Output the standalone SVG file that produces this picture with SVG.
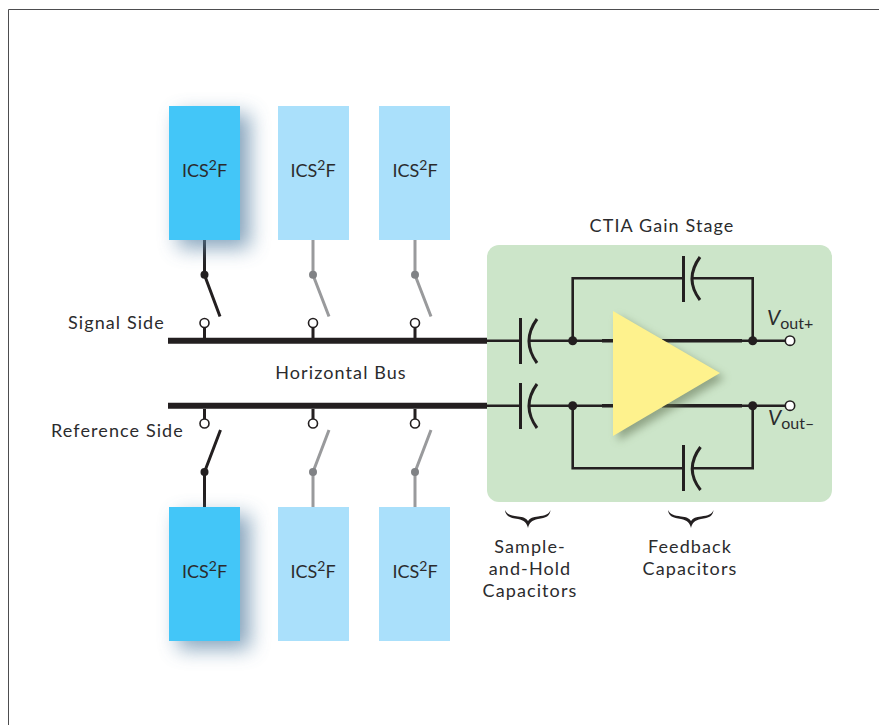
<svg xmlns="http://www.w3.org/2000/svg" width="879" height="725" viewBox="0 0 879 725">
<style>
text{font-family:Lato,"Noto Sans","Liberation Sans",sans-serif;font-size:18px;letter-spacing:1.1px;fill:#2b2b2d}
.m{text-anchor:middle}
.i{font-size:18px;letter-spacing:0}
.v{letter-spacing:0}
.sup{font-size:14px}
.d{fill:#43c6f8}.l{fill:#aae0fb}
.k{stroke:#231f20;fill:none;stroke-width:3}
.g{stroke:#999a9c;fill:none;stroke-width:3}
.w{stroke:#231f20;fill:none;stroke-width:2.6}
.kd{fill:#231f20}.gd{fill:#808285}
.o{fill:#fff;stroke:#231f20;stroke-width:1.6}
.c{stroke:#231f20;fill:none;stroke-width:3}
</style>
<defs>
<filter id="sh" x="-60%" y="-40%" width="220%" height="180%"><feGaussianBlur stdDeviation="10"/></filter>
<filter id="ts" x="-30%" y="-30%" width="160%" height="160%"><feGaussianBlur stdDeviation="4"/></filter>
</defs>
<path d="M8.500 725V9.500H879" fill="none" stroke="#4d4d4f" stroke-width="1"/>
<g id="stage">
<rect x="487" y="245" width="345" height="257" rx="12" fill="#cce5c9"/>
</g>
<g id="connectors">
<path class="w" d="M487 340.700H520M530 340.700H614M662 340.700H785M572.700 340.700V278.300H683M692.500 278.300H752.700V340.700"/>
<path class="w" d="M487 405.700H520M530 405.700H614M662 405.700H785M572.700 405.700V468.300H683M692.500 468.300H752.700V405.700"/>
<path d="M602 340.700H614M662 340.700H742M602 405.700H614M662 405.700H742" stroke="#231f20" stroke-width="3.600" fill="none"/>
<path d="M168 340.700H487M168 405.700H487" stroke="#231f20" stroke-width="6" fill="none"/>
<path class="k" d="M204.500 240V275L220 316.500M204.500 328V338M204.500 409V419M220.500 430L204.500 472V507"/>
<path class="g" d="M313 240V275L329 316.500M415 240V275L431 316.500M313 507V472L329 430M415 507V472L431 430"/>
<path class="k" d="M313 328V338M415 328V338M313 409V419M415 409V419"/>
</g>
<g id="cap-sh1"><path class="c" d="M520.500 318V364M537 319Q521 341 537 363"/></g>
<g id="cap-sh2"><path class="c" d="M520.500 383V429M537 384Q521 406 537 428"/></g>
<g id="cap-fb1"><path class="c" d="M683.500 256V302M700 257Q684 279 700 300"/></g>
<g id="cap-fb2"><path class="c" d="M683.500 445V491M700.500 447Q684 469 700.500 490"/></g>
<g id="junctions">
<circle class="kd" cx="572.700" cy="340.700" r="4.500"/><circle class="kd" cx="752.700" cy="340.700" r="4.500"/>
<circle class="kd" cx="572.700" cy="405.700" r="4.500"/><circle class="kd" cx="752.700" cy="405.700" r="4.500"/>
<circle class="o" cx="790" cy="340.700" r="4.700"/><circle class="o" cx="790" cy="405.700" r="4.700"/>
<circle class="kd" cx="204.500" cy="274.700" r="4"/><circle class="gd" cx="313" cy="274.700" r="4"/><circle class="gd" cx="415" cy="274.700" r="4"/>
<circle class="kd" cx="204.500" cy="472" r="4"/><circle class="gd" cx="313" cy="472" r="4"/><circle class="gd" cx="415" cy="472" r="4"/>
<circle class="o" cx="204.500" cy="323" r="4.500"/><circle class="o" cx="313" cy="323" r="4.500"/><circle class="o" cx="415" cy="323" r="4.500"/>
<circle class="o" cx="204.500" cy="423.500" r="4.500"/><circle class="o" cx="313" cy="423.500" r="4.500"/><circle class="o" cx="415" cy="423.500" r="4.500"/>
</g>
<g id="amp">
<path d="M613 311L720 373L613 436Z" fill="#5f7050" opacity=".55" filter="url(#ts)" transform="translate(5 5)"/>
<path d="M613 311L720 373L613 436Z" fill="#fef28d"/>
</g>
<g id="ics-t1"><rect x="178" y="114" width="72" height="134" fill="#5f87a8" opacity=".75" filter="url(#sh)"/><rect class="d" x="169" y="106" width="71" height="134"/><text class="m i" x="204.500" y="177">ICS<tspan class="sup" dy="-7">2</tspan><tspan dy="7">F</tspan></text></g>
<g id="ics-t2"><rect class="l" x="278" y="106" width="71" height="134"/><text class="m i" x="313" y="177">ICS<tspan class="sup" dy="-7">2</tspan><tspan dy="7">F</tspan></text></g>
<g id="ics-t3"><rect class="l" x="379" y="106" width="71" height="134"/><text class="m i" x="415" y="177">ICS<tspan class="sup" dy="-7">2</tspan><tspan dy="7">F</tspan></text></g>
<g id="ics-b1"><rect x="178" y="515" width="72" height="134" fill="#5f87a8" opacity=".75" filter="url(#sh)"/><rect class="d" x="169" y="507" width="71" height="134"/><text class="m i" x="204.500" y="578">ICS<tspan class="sup" dy="-7">2</tspan><tspan dy="7">F</tspan></text></g>
<g id="ics-b2"><rect class="l" x="278" y="507" width="71" height="134"/><text class="m i" x="313" y="578">ICS<tspan class="sup" dy="-7">2</tspan><tspan dy="7">F</tspan></text></g>
<g id="ics-b3"><rect class="l" x="379" y="507" width="71" height="134"/><text class="m i" x="415" y="578">ICS<tspan class="sup" dy="-7">2</tspan><tspan dy="7">F</tspan></text></g>
<g id="labels">
<text x="68" y="329">Signal Side</text>
<text x="51" y="437">Reference Side</text>
<text class="m" x="341" y="379">Horizontal Bus</text>
<text class="m" x="662" y="232">CTIA Gain Stage</text>
<text class="v" x="767" y="325"><tspan font-style="italic" font-size="21">V</tspan><tspan dy="4" font-size="16">out+</tspan></text>
<text class="v" x="768" y="425"><tspan font-style="italic" font-size="21">V</tspan><tspan dy="4" font-size="16">out–</tspan></text>
<text class="m" x="530" y="553">Sample-</text>
<text class="m" x="530" y="575">and-Hold</text>
<text class="m" x="530" y="597">Capacitors</text>
<text class="m" x="690" y="553">Feedback</text>
<text class="m" x="690" y="575">Capacitors</text>
</g>
<g id="braces" fill="#231f20">
<path d="M505 510C505.500 516 510 518 518 519C524 520 527 523 528 528C529 523 532 520 538 519C546 518 550 516 550.500 510C549 514.500 545 515.500 538 516.500C533 517 530 518 528 521C526 518 523 517 518 516.500C511 515.500 507 514.500 505 510Z"/>
<path d="M668 510C668.500 516 673 518 681 519C687 520 690 523 691 528C692 523 695 520 701 519C709 518 713 516 713.500 510C712 514.500 708 515.500 701 516.500C696 517 693 518 691 521C689 518 686 517 681 516.500C674 515.500 670 514.500 668 510Z"/>
</g>
</svg>
